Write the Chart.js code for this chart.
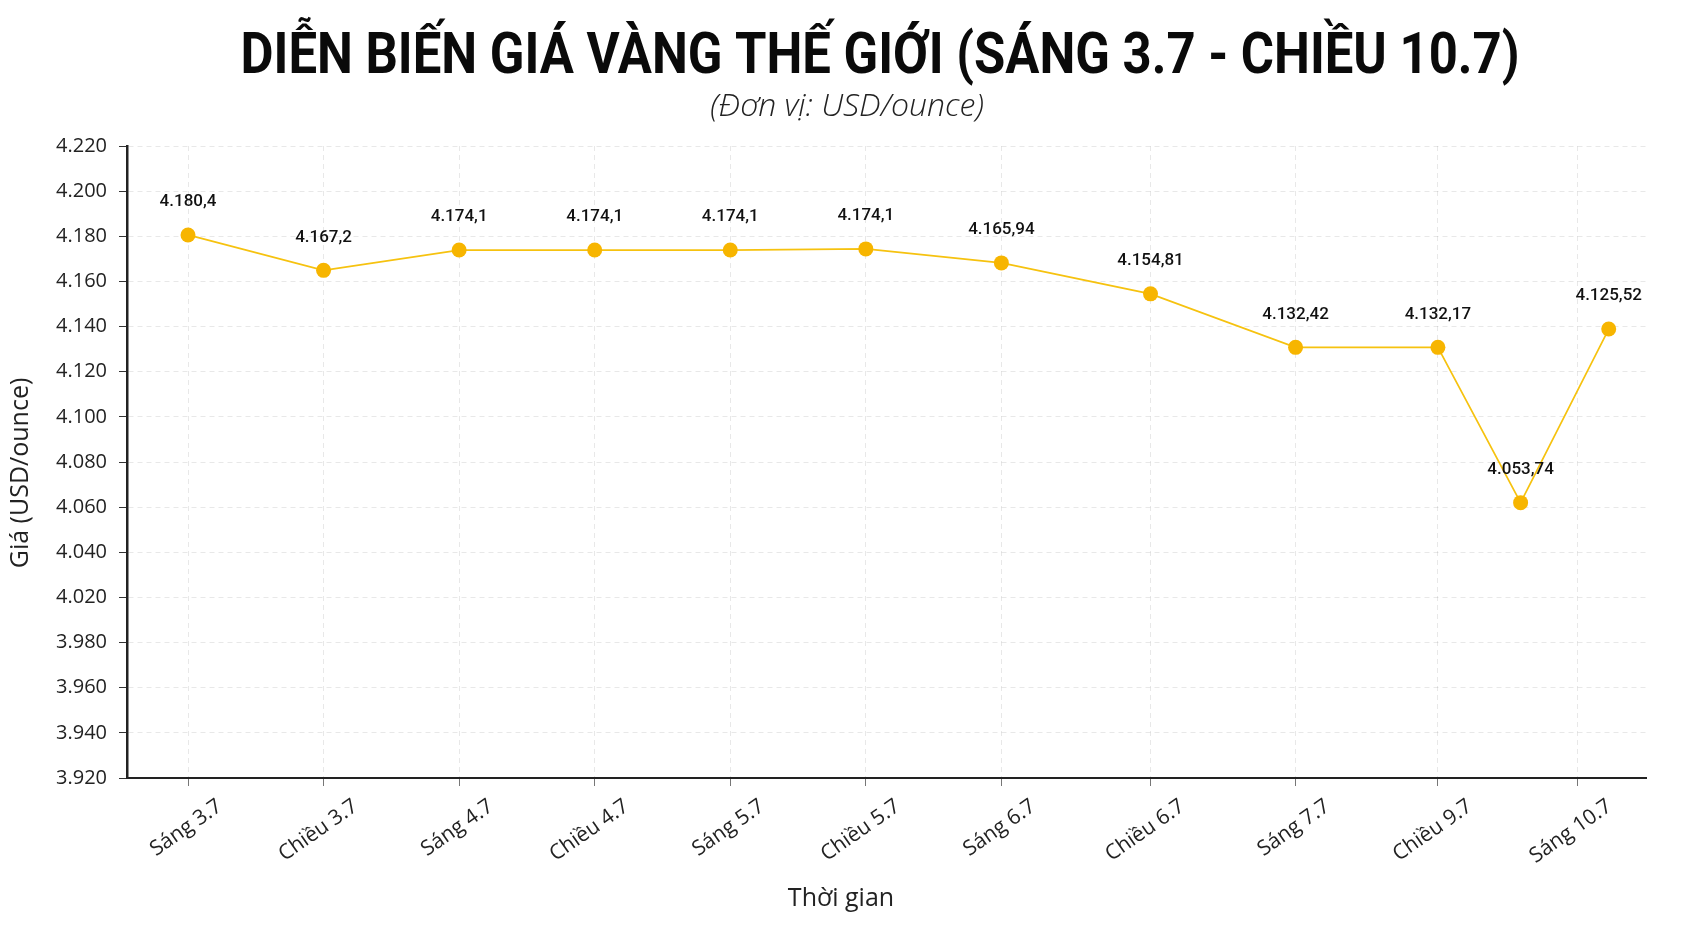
<!DOCTYPE html>
<html>
<head>
<meta charset="utf-8">
<script src="https://cdn.jsdelivr.net/npm/chart.js"></script>
<style>
  body { margin: 0; background: #fff; }
  #wrap { width: 1681px; height: 935px; position: relative; }
</style>
</head>
<body>
<div id="wrap"><canvas id="myChart"></canvas></div>
<script>
// time slots on the x axis (as they sit in the picture)
const xLabels = ['Sáng 3.7', 'Chiều 3.7', 'Sáng 4.7', 'Chiều 4.7', 'Sáng 5.7', 'Chiều 5.7',
  'Sáng 6.7', 'Chiều 6.7', 'Sáng 7.7', 'Chiều 9.7', 'Sáng 10.7'];
const xTickPos = [0, 1, 2, 3, 4, 5, 6, 7.1, 8.17, 9.22, 10.25];

// each reading: where it sits in time, the plotted price, and the printed label
const pointPos = [0, 1, 2, 3, 4, 5, 6, 7.1, 8.17, 9.22, 9.83, 10.48];
const prices = [4180.6, 4164.9, 4173.9, 4173.9, 4173.9, 4174.4, 4168.2, 4154.5, 4130.8, 4130.8, 4062, 4138.9];
const priceLabels = ['4.180,4', '4.167,2', '4.174,1', '4.174,1', '4.174,1', '4.174,1',
  '4.165,94', '4.154,81', '4.132,42', '4.132,17', '4.053,74', '4.125,52'];

// y tick labels, bottom to top (the picture skips 4.000)
const yTickLabels = ['3.920', '3.940', '3.960', '3.980', '4.020', '4.040', '4.060', '4.080',
  '4.100', '4.120', '4.140', '4.160', '4.180', '4.200', '4.220'];

const titleText = 'DIỄN BIẾN GIÁ VÀNG THẾ GIỚI (SÁNG 3.7 - CHIỀU 10.7)';
const subtitleText = '(Đơn vị: USD/ounce)';
const xTitle = 'Thời gian';
const yTitle = 'Giá (USD/ounce)';

// title, subtitle and axis titles
const headerPlugin = {
  id: 'header',
  afterDraw(chart) {
    const ctx = chart.ctx;
    ctx.save();
    ctx.fillStyle = '#0a0a0a';
    ctx.textAlign = 'center';
    ctx.textBaseline = 'alphabetic';
    ctx.font = 'bold 57px Roboto, sans-serif';
    const w = ctx.measureText(titleText).width;
    ctx.translate(880, 73);
    ctx.scale(1279 / w, 1);
    ctx.fillText(titleText, 0, 0);
    ctx.restore();

    ctx.save();
    ctx.fillStyle = '#222';
    ctx.textAlign = 'center';
    ctx.font = 'italic 300 32px "Open Sans", sans-serif';
    ctx.fillText(subtitleText, 847, 116);

    ctx.font = '25px "Open Sans", sans-serif';
    ctx.textBaseline = 'middle';
    ctx.fillText(xTitle, 841, 899);

    ctx.translate(21, 473);
    ctx.rotate(-Math.PI / 2);
    ctx.fillText(yTitle, 0, 0);
    ctx.restore();
  }
};

// value labels above the points
const valueLabels = {
  id: 'valueLabels',
  afterDatasetsDraw(chart) {
    const ctx = chart.ctx;
    const meta = chart.getDatasetMeta(0);
    ctx.save();
    ctx.fillStyle = '#111';
    ctx.textAlign = 'center';
    ctx.textBaseline = 'middle';
    ctx.font = '500 17px Roboto, sans-serif';
    meta.data.forEach((pt, i) => {
      ctx.fillText(priceLabels[i], pt.x, pt.y - 33);
    });
    ctx.restore();
  }
};

const ctx = document.getElementById('myChart');

new Chart(ctx, {
  type: 'line',
  data: {
    datasets: [{
      label: 'Giá vàng',
      data: pointPos.map((x, i) => ({ x: x, y: prices[i] })),
      borderColor: '#F6C20F',
      borderWidth: 1.7,
      backgroundColor: '#F7B500',
      pointBackgroundColor: '#F7B500',
      pointBorderColor: '#F7B500',
      pointBorderWidth: 0,
      pointRadius: 7.5,
      tension: 0
    }]
  },
  options: {
    responsive: true,
    maintainAspectRatio: false,
    animation: false,
    layout: { padding: { top: 146, left: 10, right: 35, bottom: 0 } },
    plugins: {
      legend: { display: false },
      tooltip: { enabled: false }
    },
    scales: {
      x: {
        type: 'linear',
        min: -0.45,
        max: 10.755,
        afterBuildTicks(scale) {
          scale.ticks = xTickPos.map(v => ({ value: v }));
        },
        afterFit(scale) { scale.height = 935 - 778; },
        ticks: {
          autoSkip: false,
          minRotation: 35,
          maxRotation: 35,
          labelOffset: 32,
          padding: 8,
          color: '#222',
          font: { family: '"Open Sans", sans-serif', size: 21 },
          callback: (v, i) => xLabels[i]
        },
        grid: {
          color: 'rgba(0,0,0,0.09)',
          tickColor: '#777',
          tickLength: 8
        },
        border: { display: true, color: '#222', width: 2, dash: [5, 4] },
        title: { display: false }
      },
      y: {
        min: 3940,
        max: 4220,
        afterBuildTicks(scale) {
          const t = [];
          for (let k = 0; k < yTickLabels.length; k++) t.push({ value: 3940 + k * 20 });
          scale.ticks = t;
        },
        afterFit(scale) { scale.width = 117; },
        ticks: {
          padding: 12,
          color: '#222',
          font: { family: '"Open Sans", sans-serif', size: 20 },
          callback: (v, i) => yTickLabels[i]
        },
        grid: {
          color: 'rgba(0,0,0,0.09)',
          tickColor: '#333',
          tickLength: 8
        },
        border: { display: true, color: '#222', width: 2.5, dash: [5, 4] },
        title: { display: false }
      }
    }
  },
  plugins: [headerPlugin, valueLabels]
});
</script>
</body>
</html>
